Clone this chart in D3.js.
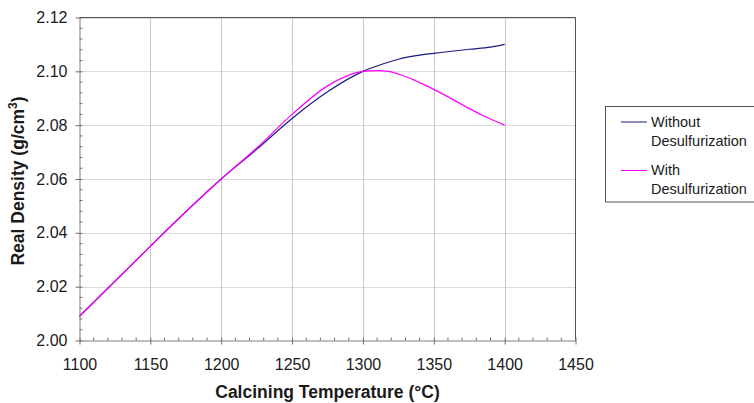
<!DOCTYPE html>
<html>
<head>
<meta charset="utf-8">
<script src="https://cdn.jsdelivr.net/npm/d3@7/dist/d3.min.js"></script>
<style>
  html, body { margin: 0; padding: 0; background: #fff; }
  svg { display: block; font-family: Arial, "Liberation Sans", sans-serif; }
</style>
</head>
<body>
<svg id="chart" width="754" height="403"></svg>
<script>
// Calcining temperature (°C) and real density (g/cm³) readings
const tempsWithout = [1100, 1110, 1150, 1160, 1200, 1225, 1250, 1275, 1300, 1310, 1325, 1340, 1350, 1375, 1390, 1400];
const densityWithout = [2.009, 2.0142, 2.035, 2.0402, 2.060, 2.071, 2.0825, 2.0924, 2.100, 2.102, 2.1045, 2.106, 2.1067, 2.1082, 2.109, 2.110];

const tempsWith = [1100, 1110, 1150, 1160, 1200, 1225, 1250, 1275, 1300, 1310, 1318, 1335, 1350, 1385, 1400];
const densityWith = [2.009, 2.0142, 2.035, 2.0402, 2.060, 2.0715, 2.084, 2.0946, 2.100, 2.1003, 2.1000, 2.097, 2.0933, 2.0835, 2.080];

const seriesNames = ["Without\nDesulfurization", "With\nDesulfurization"];
const seriesColors = ["#1a1a80", "#ff00ff"];

const xTicks = [1100, 1150, 1200, 1250, 1300, 1350, 1400, 1450];
const yTicks = [2.00, 2.02, 2.04, 2.06, 2.08, 2.10, 2.12];

const svg = d3.select("#chart");
const plot = { left: 79.5, right: 575.5, top: 17.5, bottom: 340.5 };

const x = d3.scaleLinear().domain([1100, 1450]).range([plot.left, plot.right]);
const y = d3.scaleLinear().domain([2.00, 2.12]).range([plot.bottom, plot.top]);

// grid lines
svg.append("g").selectAll("line").data(yTicks.slice(1)).join("line")
  .attr("x1", plot.left).attr("x2", plot.right)
  .attr("y1", d => Math.round(y(d)) + 0.5).attr("y2", d => Math.round(y(d)) + 0.5)
  .attr("stroke", "#dcdcdc").attr("stroke-width", 1);
svg.append("g").selectAll("line").data(xTicks.slice(1, -1)).join("line")
  .attr("y1", plot.top).attr("y2", plot.bottom)
  .attr("x1", d => Math.round(x(d)) + 0.5).attr("x2", d => Math.round(x(d)) + 0.5)
  .attr("stroke", "#c8c8c8").attr("stroke-width", 1);

// top and right frame
svg.append("path")
  .attr("d", `M${plot.left},${plot.top}H${plot.right}V${plot.bottom}`)
  .attr("fill", "none").attr("stroke", "#555").attr("stroke-width", 1);

// axes
const xAxis = d3.axisBottom(x).tickValues(xTicks).tickFormat(d3.format("d"))
  .tickSizeInner(4).tickSizeOuter(0).tickPadding(14);
const yAxis = d3.axisLeft(y).tickValues(yTicks).tickFormat(d3.format(".2f"))
  .tickSizeInner(4).tickSizeOuter(0).tickPadding(8);

const gx = svg.append("g").attr("transform", `translate(0,${plot.bottom})`).call(xAxis);
const gy = svg.append("g").attr("transform", `translate(${plot.left},0)`).call(yAxis);
[gx, gy].forEach(g => {
  g.select(".domain").attr("stroke", "#7f7f7f");
  g.selectAll(".tick line").attr("stroke", "#6f6f6f");
  g.selectAll(".tick text").attr("fill", "#1a1a1a")
    .style("font-size", "16px").style("font-family", "Arial, 'Liberation Sans', sans-serif");
});
// major ticks cross the axis
gx.selectAll(".tick line").attr("y1", -3);
gy.selectAll(".tick line").attr("x1", 3);

// minor ticks, inside the plot
const xMinor = d3.range(1110, 1450, 10).filter(v => v % 50 !== 0);
svg.append("g").selectAll("line").data(xMinor).join("line")
  .attr("x1", d => x(d)).attr("x2", d => x(d))
  .attr("y1", plot.bottom).attr("y2", plot.bottom - 3)
  .attr("stroke", "#6f6f6f");
const yMinor = d3.range(1, 30).map(i => 2.00 + i * 0.004).filter(v => Math.abs(v * 50 - Math.round(v * 50)) > 1e-6);
svg.append("g").selectAll("line").data(yMinor).join("line")
  .attr("y1", d => y(d)).attr("y2", d => y(d))
  .attr("x1", plot.left).attr("x2", plot.left + 3)
  .attr("stroke", "#6f6f6f");

// data lines
const line = d3.line().x(d => x(d[0])).y(d => y(d[1])).curve(d3.curveMonotoneX);
const series = [
  d3.zip(tempsWithout, densityWithout),
  d3.zip(tempsWith, densityWith)
];
svg.append("g").selectAll("path").data(series).join("path")
  .attr("d", line)
  .attr("fill", "none")
  .attr("stroke", (d, i) => seriesColors[i])
  .attr("stroke-width", 1.2);

// axis titles
svg.append("text")
  .attr("x", (plot.left + plot.right) / 2).attr("y", 398)
  .attr("text-anchor", "middle")
  .style("font-size", "17.5px").style("font-weight", "bold").attr("fill", "#1a1a1a")
  .text("Calcining Temperature (°C)");

const yTitle = svg.append("text")
  .attr("transform", `translate(24,181) rotate(-90)`)
  .attr("text-anchor", "middle")
  .style("font-size", "17.5px").style("font-weight", "bold").attr("fill", "#1a1a1a");
yTitle.append("tspan").text("Real Density (g/cm");
yTitle.append("tspan").attr("dy", -7).style("font-size", "12px").text("3");
yTitle.append("tspan").attr("dy", 7).text(")");

// legend
const legend = svg.append("g");
legend.append("rect")
  .attr("x", 605.5).attr("y", 106.5).attr("width", 160).attr("height", 95.5)
  .attr("fill", "#fff").attr("stroke", "#555");
const items = legend.selectAll("g").data(seriesNames).join("g")
  .attr("transform", (d, i) => `translate(0,${i * 48.5})`);
items.append("line")
  .attr("x1", 621).attr("x2", 647).attr("y1", 122).attr("y2", 122)
  .attr("stroke", (d, i) => seriesColors[i]).attr("stroke-width", 1);
items.append("text")
  .attr("x", 651).attr("y", 126.5)
  .style("font-size", "14.5px").attr("fill", "#1a1a1a")
  .selectAll("tspan").data(d => d.split("\n")).join("tspan")
  .attr("x", 651).attr("dy", (d, i) => i === 0 ? 0 : 19)
  .text(d => d);
</script>
</body>
</html>
